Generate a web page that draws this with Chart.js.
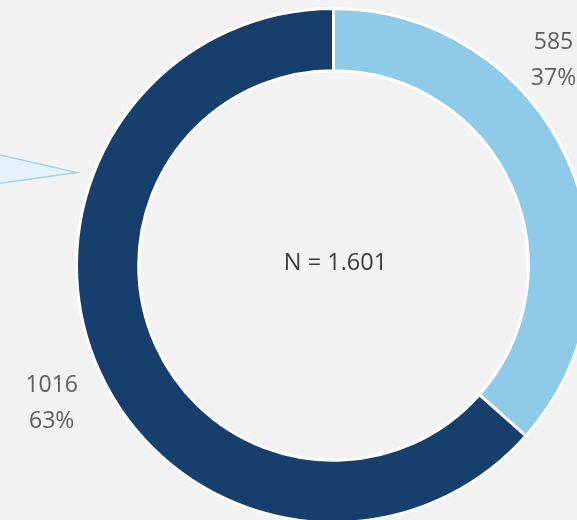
<!DOCTYPE html>
<html>
<head>
<meta charset="utf-8">
<script src="https://cdn.jsdelivr.net/npm/chart.js@4.4.1/dist/chart.umd.min.js"></script>
<style>
  html, body { margin: 0; padding: 0; background: #f2f2f2; overflow: hidden; width: 577px; height: 520px; }
  #wrap { position: absolute; left: 0; top: 0; width: 667px; height: 531px; }
</style>
</head>
<body>
<div id="wrap"><canvas id="c" width="667" height="531"></canvas></div>
<script>
// ---- data ----
const categories = ["Gruppe A", "Gruppe B"];
const counts = [585, 1016];
const percentLabels = ["37%", "63%"];
const totalLabel = "N = 1.601";

// ---- styles ----
const sliceColors = ["#8fcbe9", "#173f6e"];
const labelColor = "#5e5e5e";
const centerColor = "#3c3c3c";
const labelAngleDeg = [45.4, null];   // null = use slice mid-angle
const labelRadius = 309;
const labelFont = "23px 'Open Sans'";
const centerFont = "23.5px 'Open Sans'";

const decoPlugin = {
  id: 'deco',
  beforeDraw(chart) {
    const ctx = chart.ctx;
    ctx.save();
    ctx.beginPath();
    ctx.moveTo(-2, 154.5);
    ctx.lineTo(76.5, 172.5);
    ctx.lineTo(-2, 183.5);
    ctx.closePath();
    ctx.fillStyle = "#e6f2fb";
    ctx.fill();
    ctx.lineWidth = 1.6;
    ctx.strokeStyle = "#a6d2ef";
    ctx.stroke();
    ctx.restore();
  }
};

const labelPlugin = {
  id: 'labels',
  afterDatasetsDraw(chart) {
    const ctx = chart.ctx;
    const meta = chart.getDatasetMeta(0);
    const arcs = meta.data;
    if (!arcs.length) return;
    const cx = arcs[0].x, cy = arcs[0].y;
    ctx.save();
    ctx.textAlign = "center";
    ctx.textBaseline = "alphabetic";
    arcs.forEach((arc, i) => {
      let a;
      if (labelAngleDeg[i] === null) {
        a = (arc.startAngle + arc.endAngle) / 2;
      } else {
        a = (labelAngleDeg[i] - 90) * Math.PI / 180;
      }
      const x = cx + labelRadius * Math.cos(a);
      const y = cy + labelRadius * Math.sin(a);
      ctx.fillStyle = labelColor;
      ctx.font = labelFont;
      ctx.fillText(String(counts[i]), x, y);
      ctx.fillText(percentLabels[i], x, y + 36);
    });
    ctx.fillStyle = centerColor;
    ctx.font = centerFont;
    ctx.fillText(totalLabel, cx + 2, cy + 4.5);
    ctx.restore();
  }
};

new Chart(document.getElementById('c'), {
  type: 'doughnut',
  data: {
    labels: categories,
    datasets: [{
      data: counts,
      backgroundColor: sliceColors,
      borderColor: "#ffffff",
      borderWidth: 3,
      hoverOffset: 0
    }]
  },
  options: {
    responsive: false,
    animation: false,
    radius: 257,
    cutout: "75.8%",
    layout: { padding: 0 },
    plugins: {
      legend: { display: false },
      tooltip: { enabled: false }
    }
  },
  plugins: [decoPlugin, labelPlugin]
});
</script>
</body>
</html>
